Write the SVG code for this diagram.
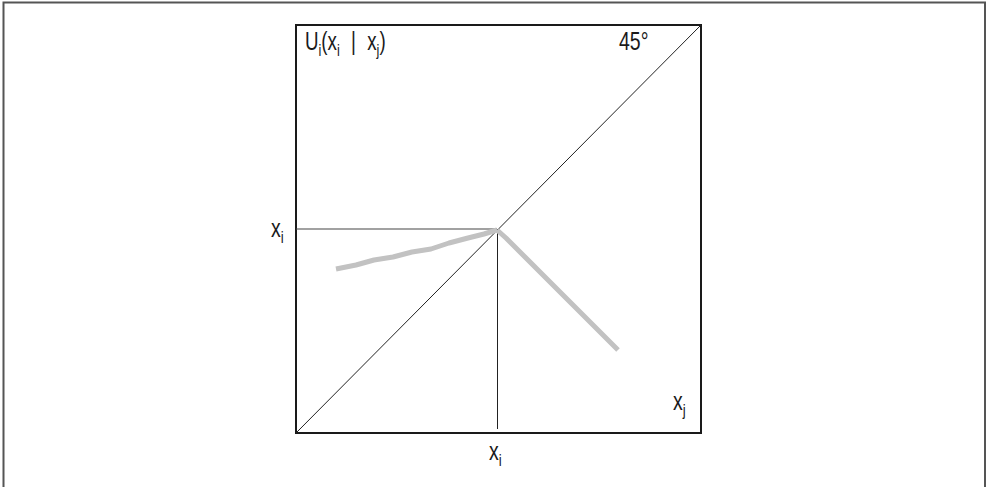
<svg xmlns="http://www.w3.org/2000/svg" width="988" height="487" viewBox="0 0 988 487">
<style>
.t{font-family:"Liberation Sans",Arial,sans-serif;font-size:25px;fill:#1a1a1a}
.s{font-size:17px}
.thin{stroke:#222;stroke-width:1;fill:none}
.curve{stroke:#c2c2c2;stroke-width:5;fill:none;stroke-linejoin:round;stroke-linecap:butt}
</style>
<rect width="988" height="487" fill="#fff"/>
<path d="M3.5,495 V2.5 H985 V495" fill="none" stroke="#555" stroke-width="2"/>
<g id="box">
<rect x="296" y="25" width="405" height="408" fill="none" stroke="#1a1a1a" stroke-width="2"/>
</g>
<g id="connectors">
<line class="thin" x1="296" y1="433" x2="701" y2="25"/>
<line x1="296" y1="229" x2="497" y2="229" stroke="#444" stroke-width="1.2"/>
<line class="thin" x1="497.5" y1="229" x2="497.5" y2="429"/>
<polyline class="curve" points="336,269 356,265 374,260 393,257 412,252 431,249 449,243 468,238 484,234 497,230"/>
<polyline class="curve" points="497,230 506,238 618,350"/>
</g>
<g id="labels">
<text class="t" transform="translate(305,50) scale(0.75,1)">U<tspan class="s" dy="6">i</tspan><tspan dy="-6">(x</tspan><tspan class="s" dy="6">i</tspan><tspan dy="-6" dx="15">|</tspan><tspan dx="15">x</tspan><tspan class="s" dy="6">j</tspan><tspan dy="-6">)</tspan></text>
<text class="t" transform="translate(619,50) scale(0.78,1)">45°</text>
<text class="t" transform="translate(271,237) scale(0.78,1)">x<tspan class="s" dy="6">i</tspan></text>
<text class="t" transform="translate(489,460) scale(0.78,1)">x<tspan class="s" dy="6">i</tspan></text>
<text class="t" transform="translate(673,410) scale(0.78,1)">x<tspan class="s" dy="6">j</tspan></text>
</g>
</svg>
